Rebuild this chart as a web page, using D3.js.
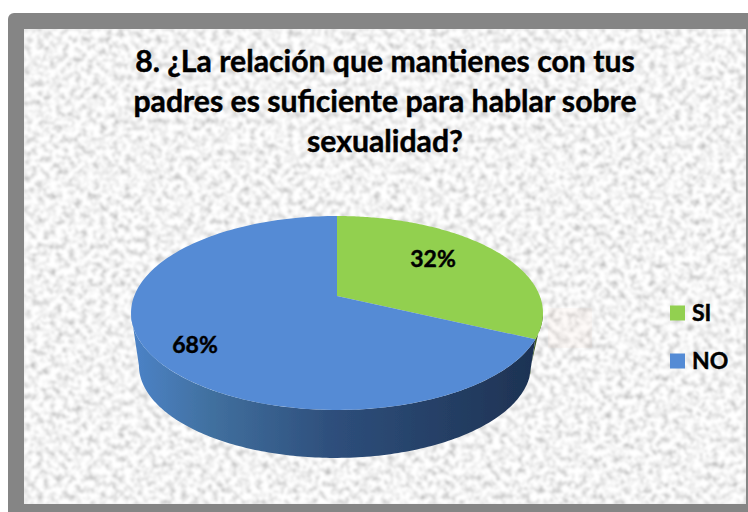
<!DOCTYPE html>
<html><head><meta charset="utf-8">
<script src="https://cdn.jsdelivr.net/npm/d3@7/dist/d3.min.js"></script>
<style>html,body{margin:0;padding:0;background:#fff;overflow:hidden}svg{display:block}text{font-family:Lato,"Open Sans",sans-serif;font-weight:700;fill:#000;stroke:#000;stroke-width:.45px}</style>
</head><body><svg id="c" width="748" height="512"></svg>
<script>
const categories = ["SI", "NO"];
const values = [32, 68];
const labels = ["32%", "68%"];
const titleLines = ["8. ¿La relación que mantienes con tus", "padres es suficiente para hablar sobre", "sexualidad?"];
const topColors = ["#92d050", "#548bd5"];
const W = 748, H = 512;
const svg = d3.select("#c");
const defs = svg.append("defs");

const f = defs.append("filter").attr("id","tex").attr("x",0).attr("y",0).attr("width","100%").attr("height","100%");
f.append("feTurbulence").attr("type","fractalNoise").attr("baseFrequency",0.16).attr("numOctaves",3).attr("seed",7).attr("result","n");
f.append("feColorMatrix").attr("in","n").attr("type","matrix")
 .attr("values","1.05 0 0 0 0.37  1.05 0 0 0 0.37  1.05 0 0 0 0.37  0 0 0 0 1");
f.append("feGaussianBlur").attr("stdDeviation",0.9);

const soft = defs.append("filter").attr("id","soft").attr("x","-5%").attr("y","-5%").attr("width","110%").attr("height","110%");
soft.append("feGaussianBlur").attr("stdDeviation",0.35);

const g1 = defs.append("linearGradient").attr("id","wallNO").attr("gradientUnits","userSpaceOnUse")
  .attr("x1",131).attr("x2",530).attr("y1",0).attr("y2",0);
[[0,"#4c83c8"],[0.2,"#41709f"],[0.5,"#2e4f7c"],[1,"#1e3354"]].forEach(s=>g1.append("stop").attr("offset",s[0]).attr("stop-color",s[1]));
const g2 = defs.append("linearGradient").attr("id","wallSI").attr("gradientUnits","userSpaceOnUse")
  .attr("x1",525).attr("x2",545).attr("y1",0).attr("y2",0);
[[0,"#4d6f2a"],[1,"#334b1b"]].forEach(s=>g2.append("stop").attr("offset",s[0]).attr("stop-color",s[1]));

// frame + textured backdrop
svg.append("rect").attr("x",8).attr("y",13).attr("width",W).attr("height",H).attr("rx",6).attr("fill","#858585");
svg.append("rect").attr("x",24).attr("y",29).attr("width",722).attr("height",475).attr("fill","#e8e8e8");
svg.append("rect").attr("x",24).attr("y",29).attr("width",722).attr("height",475).attr("filter","url(#tex)");
svg.append("rect").attr("x",548).attr("y",308).attr("width",44).attr("height",40).attr("fill","#f3d9c8").attr("opacity",0.12);

const chart = svg.append("g").attr("filter","url(#soft)");

// projective map of a tilted disc; level 1 is the lower rim
const k = 0.175;
const project = (t, level) => {
  const X = Math.sin(t), Y = -Math.cos(t), d = 1 - k * Y;
  const ox = level ? 335 : 337, sx = level ? 0.952 : 1, sy = level ? 0.956 : 1, y0 = level ? 349 : 296;
  return [ox + 202.8 * sx * X / d, y0 + 94 * sy * Y / d];
};
const arcs = d3.pie().sort(null).value(d=>d)(values);
const line = d3.line();
const samples = (a,b) => d3.range(0,161).map(i=>a+(b-a)*i/160);

// visible wall lies between the two silhouette angles
const tan = Math.acos(k);
const frontA = Math.PI - tan, frontB = Math.PI + tan;
const rimAngle = d3.scaleLinear()
  .domain([frontA, arcs[0].endAngle, Math.PI, frontB])
  .range([frontA, arcs[0].endAngle - 0.13, Math.PI, frontB]);
arcs.forEach((a,i)=>{
  const s = Math.max(a.startAngle,frontA), e = Math.min(a.endAngle,frontB);
  if (e<=s) return;
  const ts = samples(s,e);
  const pts = ts.map(t=>project(t,0)).concat(ts.slice().reverse().map(t=>project(rimAngle(t),1)));
  chart.append("path").attr("d",line(pts)+"Z").attr("fill",i===0?"url(#wallSI)":"url(#wallNO)");
});
// top faces
arcs.forEach((a,i)=>{
  const pts = [[337,296]].concat(samples(a.startAngle,a.endAngle).map(t=>project(t,0)));
  chart.append("path").attr("d",line(pts)+"Z").attr("fill",topColors[i]);
});

// title
svg.append("g").selectAll("text").data(titleLines).join("text")
  .attr("x",385).attr("y",(d,i)=>72+i*40).attr("text-anchor","middle").attr("font-size",30.2).text(d=>d);

// data labels
const labelPos = [[433,267],[195,353]];
svg.append("g").selectAll("text").data(labels).join("text")
  .attr("x",(d,i)=>labelPos[i][0]).attr("y",(d,i)=>labelPos[i][1]).attr("text-anchor","middle").attr("font-size",23).text(d=>d);

// legend
const ly = d3.scalePoint().domain(categories).range([313,361]);
const lg = svg.append("g").selectAll("g").data(categories).join("g").attr("transform",d=>`translate(670,${ly(d)})`);
lg.append("rect").attr("y",-7.5).attr("width",15).attr("height",15).attr("fill",(d,i)=>topColors[i]);
lg.append("text").attr("x",22).attr("y",8).attr("font-size",23).text(d=>d);
</script></body></html>
